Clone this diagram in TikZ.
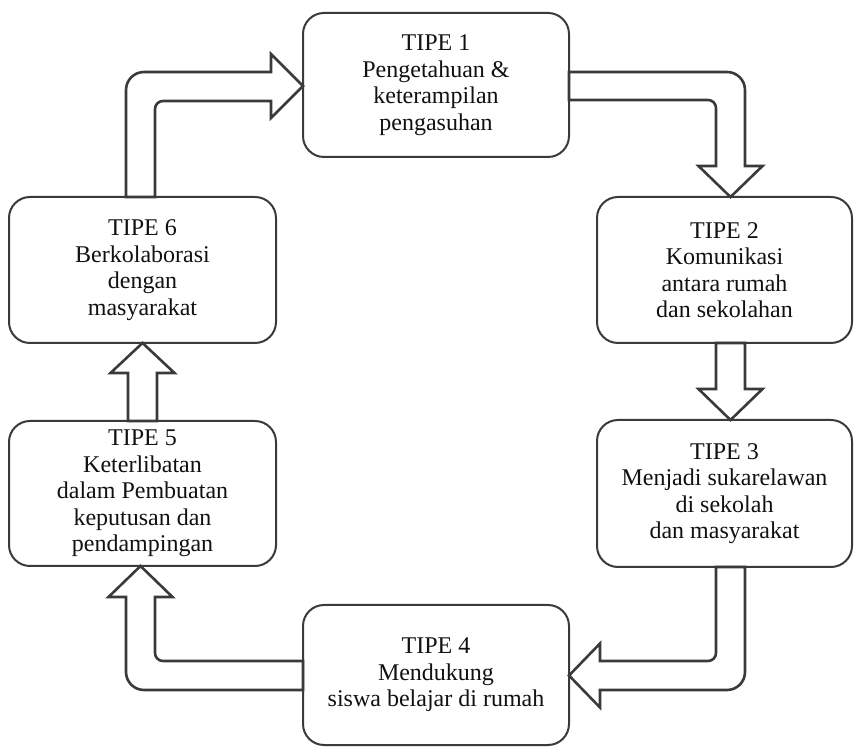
\documentclass[tikz,border=0pt]{standalone}
\usepackage{fontspec}
\setmainfont{Liberation Serif}
\definecolor{edge}{HTML}{3A3A3A}
\definecolor{ink}{HTML}{111111}
\begin{document}
\begin{tikzpicture}[x=1pt,y=1pt,
  box/.style={draw=edge, line width=2pt, rounded corners=21pt, fill=white,
    align=center, text=ink, inner sep=0pt,
    font=\fontsize{24}{26.5}\selectfont},
  blockarrow/.style={draw=edge, line width=2.6pt, fill=white, line join=miter}]
\useasboundingbox (0,0) rectangle (854,747);
% boxes
\node[box, minimum width=266pt, minimum height=144pt] (b1) at (436,662)
  {TIPE 1\\Pengetahuan \&\\keterampilan\\pengasuhan};
\node[box, minimum width=255pt, minimum height=146pt] (b2) at (724.5,477)
  {TIPE 2\\Komunikasi\\antara rumah\\dan sekolahan};
\node[box, minimum width=255pt, minimum height=147pt] (b3) at (724.5,253.5)
  {TIPE 3\\Menjadi sukarelawan\\di sekolah\\dan masyarakat};
\node[box, minimum width=266pt, minimum height=140pt] (b4) at (436,72)
  {TIPE 4\\Mendukung\\siswa belajar di rumah};
\node[box, minimum width=267pt, minimum height=145pt] (b5) at (142.5,253.5)
  {TIPE 5\\Keterlibatan\\dalam Pembuatan\\keputusan dan\\pendampingan};
\node[box, minimum width=267pt, minimum height=146pt] (b6) at (142.5,477)
  {TIPE 6\\Berkolaborasi\\dengan\\masyarakat};
% block arrows
% 6 -> 1
\draw[blockarrow] (126,550) -- (126,657) arc[start angle=180,end angle=90,radius=18]
  -- (271,675) -- (271,693) -- (303,661) -- (271,629) -- (271,646)
  -- (163,646) arc[start angle=90,end angle=180,radius=8] -- (155,550) -- cycle;
% 1 -> 2
\draw[blockarrow] (569,675) -- (727,675) arc[start angle=90,end angle=0,radius=18]
  -- (745,581) -- (762.5,581) -- (730.5,550) -- (698.5,581) -- (716,581)
  -- (716,639) arc[start angle=0,end angle=90,radius=8] -- (569,647) -- cycle;
% 2 -> 3
\draw[blockarrow] (716,404) -- (745,404) -- (745,358) -- (762.5,358)
  -- (730.5,327) -- (698.5,358) -- (716,358) -- cycle;
% 3 -> 4
\draw[blockarrow] (745,180) -- (745,75) arc[start angle=0,end angle=-90,radius=18]
  -- (600,57) -- (600,39.5) -- (569,71.5) -- (600,103.5) -- (600,86)
  -- (708,86) arc[start angle=-90,end angle=0,radius=8] -- (716,180) -- cycle;
% 4 -> 5
\draw[blockarrow] (303,57) -- (144,57) arc[start angle=-90,end angle=-180,radius=18]
  -- (126,150) -- (108.5,150) -- (140.5,181) -- (172.5,150) -- (155,150)
  -- (155,94) arc[start angle=180,end angle=270,radius=8] -- (303,86) -- cycle;
% 5 -> 6
\draw[blockarrow] (128,326) -- (128,374) -- (110.5,374) -- (142.5,404)
  -- (174.5,374) -- (157,374) -- (157,326) -- cycle;
\end{tikzpicture}
\end{document}
